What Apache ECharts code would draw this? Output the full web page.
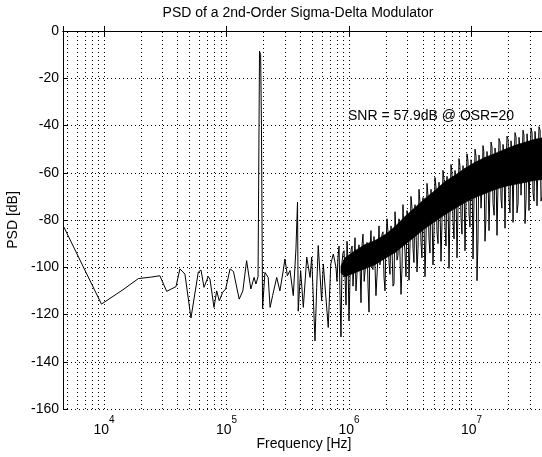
<!DOCTYPE html>
<html><head><meta charset="utf-8">
<script src="https://cdn.jsdelivr.net/npm/echarts@6/dist/echarts.min.js"></script>
<style>html,body{margin:0;padding:0;background:#fff}#c{width:542px;height:457px}</style>
</head><body><div id="c"></div>
<script>
// ---- data ----
const titleText = 'PSD of a 2nd-Order Sigma-Delta Modulator';
const xName = 'Frequency [Hz]';
const yName = 'PSD [dB]';
const snrText = 'SNR = 57.9dB @ OSR=20';

const xMin = 4630, xMax = 3.98e7;
const yMin = -160, yMax = 0, yStep = 20;
const decades = [1e3, 1e4, 1e5, 1e6, 1e7];
const gridMultipliers = [1, 2, 3, 4, 5, 6, 7, 8, 9];

// low-frequency part (individual bins), Hz / dB
const lowFreq = [4.71e3, 9.54e3, 1.43e4, 1.91e4, 2.39e4, 2.86e4, 3.25e4, 3.87e4, 4.17e4, 4.58e4,
  5.13e4, 5.89e4, 6.2e4, 6.55e4, 7.1e4, 7.33e4, 7.91e4, 8.32e4, 8.73e4, 9.31e4,
  9.85e4, 1.07e5, 1.14e5, 1.27e5, 1.36e5, 1.46e5, 1.58e5, 1.68e5, 1.74e5, 1.81e5,
  1.86e5, 1.90e5, 1.93e5, 1.97e5, 2.06e5, 2.19e5, 2.27e5, 2.38e5, 2.57e5, 2.73e5,
  2.91e5, 3.00e5, 3.14e5, 3.30e5, 3.51e5, 3.69e5, 3.80e5, 3.85e5, 4.03e5, 4.24e5,
  4.52e5, 4.81e5, 4.96e5, 5.28e5, 5.45e5, 5.61e5, 5.98e5, 6.17e5, 6.77e5, 7.10e5, 7.45e5];
const lowDb = [-83, -115.6, -109.5, -104.8, -104.2, -103.6, -110.2, -108.2, -100.7, -102.9,
  -121.5, -102, -101.2, -108.5, -103.9, -105, -117, -110, -114.2, -110.6,
  -109.2, -100.7, -101.8, -113.5, -110, -97.2, -109.2, -104.3, -107.1, -104,
  -8.5, -10, -40, -117.5, -102.2, -104.3, -117, -112, -104.3, -110,
  -101.2, -96.5, -103.6, -101.4, -112, -92.2, -72.4, -118.6, -101.4, -117,
  -95.7, -104.3, -95.7, -131.2, -108.5, -90.8, -114.2, -98.6, -125.5, -98.6, -94.4];

// shaped-noise region, set A (Hz / dB)
const noiseFreqA = [7.69e5, 7.98e5, 8.29e5, 8.60e5, 8.93e5, 9.28e5, 9.63e5, 1.00e6, 1.04e6, 1.078e6,
  1.12e6, 1.162e6, 1.207e6, 1.253e6, 1.301e6, 1.351e6, 1.403e6, 1.457e6, 1.512e6, 1.570e6,
  1.630e6, 1.693e6, 1.758e6, 1.825e6, 1.895e6, 1.968e6, 2.043e6, 2.121e6, 2.203e6, 2.287e6,
  2.375e6, 2.466e6, 2.560e6, 2.658e6, 2.760e6, 2.865e6, 2.975e6, 3.089e6, 3.207e6, 3.330e6,
  3.457e6, 3.590e6, 3.727e6, 3.870e6, 4.018e6, 4.172e6, 4.332e6, 4.498e6, 4.670e6, 4.849e6,
  5.035e6, 5.228e6, 5.428e6, 5.636e6, 5.852e6, 6.076e6, 6.310e6, 6.551e6, 6.802e6, 7.063e6,
  7.333e6, 7.614e6, 7.907e6, 8.210e6, 8.524e6, 8.850e6, 9.19e6, 9.54e6, 9.91e6, 1.029e7,
  1.068e7, 1.109e7, 1.151e7, 1.196e7, 1.241e7, 1.289e7, 1.338e7, 1.390e7, 1.443e7, 1.498e7,
  1.556e7, 1.615e7, 1.677e7, 1.741e7, 1.808e7, 1.877e7, 1.949e7, 2.024e7, 2.101e7, 2.182e7,
  2.265e7, 2.352e7, 2.442e7, 2.536e7, 2.633e7, 2.734e7, 2.839e7, 2.947e7, 3.060e7, 3.177e7,
  3.299e7, 3.425e7, 3.556e7, 3.693e7, 3.834e7, 3.98e7];
const noiseDbA = [-95, -106, -91, -129.5, -94, -104, -89, -122.7, -92.5, -108,
  -87.5, -103, -90.5, -115, -86, -102, -89.5, -119, -84.5, -101,
  -87.5, -112, -82.5, -99.5, -85, -110, -79.5, -98, -82.5, -108,
  -76.5, -97, -79.5, -111.5, -73.5, -93.5, -76, -105.5, -70, -92,
  -73.5, -102, -67, -89.5, -70.5, -104, -64.5, -88, -67, -99,
  -62, -85, -64, -97.5, -59, -83, -61.5, -100.5, -56.5, -80.5,
  -59, -96, -54, -79, -57, -93, -52, -77.5, -54.5, -96.5,
  -50, -105.7, -52.5, -75, -48.5, -89, -51, -84.5, -47, -73,
  -49.5, -86.5, -45.5, -71, -48, -83.5, -44.5, -70.5, -46.5, -81,
  -43, -77, -45, -69.5, -42, -81.5, -43.5, -76, -41, -68.5,
  -42.5, -74, -40.5, -72, -41.5, -67];

// shaped-noise region, set B (Hz / dB)
const noiseFreqB = [7.83e5, 8.13e5, 8.45e5, 8.77e5, 9.11e5, 9.46e5, 9.82e5, 1.02e6, 1.06e6, 1.10e6,
  1.14e6, 1.18e6, 1.23e6, 1.28e6, 1.33e6, 1.38e6, 1.43e6, 1.48e6, 1.54e6, 1.60e6,
  1.66e6, 1.73e6, 1.79e6, 1.86e6, 1.93e6, 2.00e6, 2.08e6, 2.16e6, 2.24e6, 2.33e6,
  2.42e6, 2.51e6, 2.61e6, 2.71e6, 2.81e6, 2.92e6, 3.03e6, 3.15e6, 3.27e6, 3.39e6,
  3.52e6, 3.66e6, 3.80e6, 3.94e6, 4.09e6, 4.25e6, 4.42e6, 4.58e6, 4.76e6, 4.94e6,
  5.13e6, 5.33e6, 5.53e6, 5.74e6, 5.97e6, 6.19e6, 6.43e6, 6.67e6, 6.93e6, 7.20e6,
  7.47e6, 7.76e6, 8.05e6, 8.36e6, 8.69e6, 9.02e6, 9.36e6, 9.72e6, 1.01e7, 1.05e7,
  1.09e7, 1.13e7, 1.17e7, 1.22e7, 1.26e7, 1.31e7, 1.36e7, 1.42e7, 1.47e7, 1.53e7,
  1.58e7, 1.65e7, 1.71e7, 1.77e7, 1.84e7, 1.91e7, 1.99e7, 2.06e7, 2.14e7, 2.22e7,
  2.31e7, 2.40e7, 2.49e7, 2.58e7, 2.68e7, 2.79e7, 2.89e7, 3.00e7, 3.12e7, 3.24e7,
  3.36e7, 3.49e7, 3.63e7, 3.77e7, 3.91e7];
const noiseDbB = [-100, -96, -112, -98, -93, -116, -97, -104, -91, -99,
  -110, -94, -99, -90, -106, -95, -108, -93, -100, -87,
  -112, -94, -99, -86, -104, -92, -85, -103, -90, -107,
  -86, -95, -80, -100, -88, -104, -79, -90, -75, -98,
  -83, -92, -73, -96, -79, -88, -70, -94, -76, -85,
  -66, -90, -74, -81, -63, -91, -70, -78, -60, -88,
  -67, -75, -57, -86, -64, -72, -55, -83, -61, -69,
  -53, -88, -59, -66, -51, -80, -57, -63, -49, -78,
  -55, -62, -47, -75, -53, -60, -46, -77, -52, -58,
  -45, -73, -50, -57, -44, -71, -49, -56, -43, -72,
  -48, -55, -42, -70, -47];

// solid core of the dense noise band (upper / lower edge), Hz / dB
const coreFreq = [8.6e5, 9.28e5, 1.12e6, 1.351e6, 1.63e6, 1.968e6, 2.375e6, 2.865e6, 3.457e6, 4.172e6,
  5.035e6, 6.076e6, 7.333e6, 8.85e6, 1.068e7, 1.289e7, 1.556e7, 1.877e7, 2.265e7, 2.734e7, 3.299e7, 3.98e7];
const coreTopDb = [-99.5, -96, -93, -90.4, -88.7, -86.2, -82.8, -78.5, -74.7, -70.9,
  -67.5, -63.7, -61.1, -58.1, -55.6, -53.5, -51.8, -50.1, -48.4, -47.1, -45.8, -45.0];
const coreBottomDb = [-102.5, -104.0, -102.3, -100.6, -98.9, -96.3, -93.8, -90.4, -87.0, -83.6,
  -80.6, -77.7, -75.1, -72.6, -70.5, -68.8, -67.1, -65.8, -64.9, -64.1, -63.2, -62.8];

// ---- build chart ----
const FONT = "'Liberation Sans', Arial, Helvetica, sans-serif";
const noisePts = noiseFreqA.map((f, i) => [f, noiseDbA[i]])
  .concat(noiseFreqB.map((f, i) => [f, noiseDbB[i]]))
  .sort((a, b) => a[0] - b[0]);
const psdData = lowFreq.map((f, i) => [f, lowDb[i]]).concat(noisePts);
const coreData = coreFreq.map((f, i) => [f, coreTopDb[i], coreBottomDb[i]]);

const vGrid = [];
decades.forEach(d => gridMultipliers.forEach(k => {
  const v = k * d;
  if (v > xMin * 1.001 && v < xMax * 0.999) vGrid.push({ xAxis: v });
}));

const dotted = { color: '#000', width: 1, type: [1, 3] };

function renderCore(params, api) {
  const i = params.dataIndex;
  if (i >= coreData.length - 1) return null;
  const a = coreData[i], b = coreData[i + 1];
  const pts = [
    api.coord([a[0], a[1]]), api.coord([b[0], b[1]]),
    api.coord([b[0], b[2]]), api.coord([a[0], a[2]])
  ];
  const cs = params.coordSys;
  return {
    type: 'polygon',
    shape: { points: pts },
    style: { fill: '#000', stroke: '#000', lineWidth: 0.6 },
    clipPath: { type: 'rect', shape: { x: cs.x, y: cs.y, width: cs.width, height: cs.height } }
  };
}

const chart = echarts.init(document.getElementById('c'), null, { renderer: 'canvas' });
chart.setOption({
  animation: false,
  backgroundColor: '#fff',
  grid: { left: 63, right: -3, top: 31, bottom: 48, containLabel: false, outerBoundsMode: 'none' },
  graphic: [
    { type: 'text', x: 298, y: 13, style: { text: titleText, font: '14px ' + FONT, fill: '#000', textAlign: 'center', textVerticalAlign: 'middle' } },
    { type: 'text', x: 348, y: 116, style: { text: snrText, font: '14px ' + FONT, fill: '#000', textAlign: 'left', textVerticalAlign: 'middle' } }
  ],
  xAxis: [{
    type: 'log', logBase: 10, min: xMin, max: xMax,
    name: xName, nameLocation: 'middle', nameGap: 28, nameMoveOverlap: false,
    nameTextStyle: { fontFamily: FONT, fontSize: 14, color: '#000' },
    axisLine: { show: true, lineStyle: { color: '#000', width: 1 } },
    axisTick: { show: true, inside: true, length: 5, lineStyle: { color: '#000' } },
    splitLine: { show: false },
    axisLabel: {
      margin: 6, color: '#000',
      formatter: function (v) {
        const lg = Math.log10(v), e = Math.round(lg);
        if (Math.abs(lg - e) > 1e-6) return '';
        return '{b|10}{e|' + e + '}';
      },
      rich: {
        b: { fontFamily: FONT, fontSize: 14, color: '#000', padding: [8, 0, 0, 0] },
        e: { fontFamily: FONT, fontSize: 10, color: '#000', verticalAlign: 'top', padding: [0, 0, 0, 0] }
      }
    }
  }, {
    type: 'log', logBase: 10, min: xMin, max: xMax, position: 'top',
    axisLine: { show: true, lineStyle: { color: '#000', width: 1 } },
    axisTick: { show: true, inside: true, length: 5, lineStyle: { color: '#000' } },
    axisLabel: { show: false }, splitLine: { show: false }
  }],
  yAxis: {
    type: 'value', min: yMin, max: yMax, interval: yStep,
    name: yName, nameLocation: 'middle', nameGap: 41,
    nameTextStyle: { fontFamily: FONT, fontSize: 14, color: '#000' },
    axisLine: { show: true, lineStyle: { color: '#000', width: 1 } },
    axisTick: { show: true, inside: true, length: 5, lineStyle: { color: '#000' } },
    axisLabel: { fontFamily: FONT, fontSize: 14, color: '#000', margin: 4 },
    splitLine: { show: true, lineStyle: dotted }
  },
  series: [
    {
      name: 'grid', type: 'line', data: [[xMin, yMin]], showSymbol: false, symbol: 'none', z: 1,
      lineStyle: { opacity: 0 }, silent: true,
      markLine: {
        silent: true, symbol: ['none', 'none'], label: { show: false },
        lineStyle: dotted, data: vGrid, animation: false
      }
    },
    {
      name: 'core', type: 'custom', data: coreData, renderItem: renderCore, z: 2, silent: true,
      encode: { x: 0, y: [1, 2] }
    },
    {
      name: 'PSD', type: 'line', data: psdData, showSymbol: false, symbol: 'none', z: 3,
      lineStyle: { color: '#000', width: 1 }, clip: true, silent: true
    }
  ]
});
</script>
</body></html>
